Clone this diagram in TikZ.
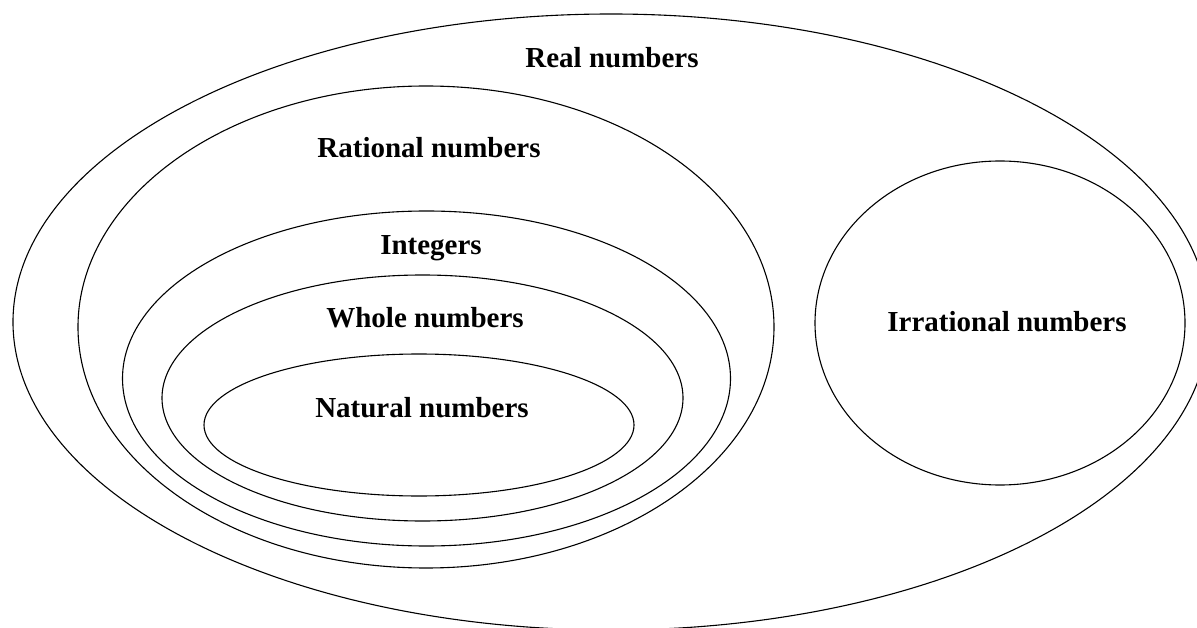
\documentclass[tikz,border=0pt]{standalone}
\usepackage{fontspec}
\setmainfont{Liberation Serif}
\usetikzlibrary{shapes.geometric}

\begin{document}
\begin{tikzpicture}[x=1pt, y=-1pt,
      numset/.style={ellipse,draw,line width=1.1pt,inner sep=0pt},
      lbl/.style={font=\fontsize{29}{33}\selectfont\bfseries,text height=20pt,text depth=0pt,inner sep=0pt}
  ]
  \clip (0,0) rectangle (1197,628);
  % the sets, outermost first
  \node[numset,minimum width=1196pt,minimum height=616pt] (real)  at (611,322)   {};
  \node[numset,minimum width=696pt, minimum height=482pt] (ratl)  at (426,327)   {};
  \node[numset,minimum width=608pt, minimum height=335pt] (intg)  at (426.5,378.5) {};
  \node[numset,minimum width=521pt, minimum height=246pt] (whole) at (422.5,398) {};
  \node[numset,minimum width=430pt, minimum height=142pt] (nat)   at (419,425)   {};
  \node[numset,minimum width=370pt, minimum height=324pt] (irr)   at (1000,323)  {};
  % labels
  \node[lbl] (real-l)  at (612,58)  {Real numbers};
  \node[lbl] (ratl-l)  at (429,148) {Rational numbers};
  \node[lbl] (intg-l)  at (431,245) {Integers};
  \node[lbl] (whole-l) at (425,318) {Whole numbers};
  \node[lbl] (nat-l)   at (422,407) {Natural numbers};
  \node[lbl] (irr-l)   at (1007,322) {Irrational numbers};
\end{tikzpicture}
\end{document}
